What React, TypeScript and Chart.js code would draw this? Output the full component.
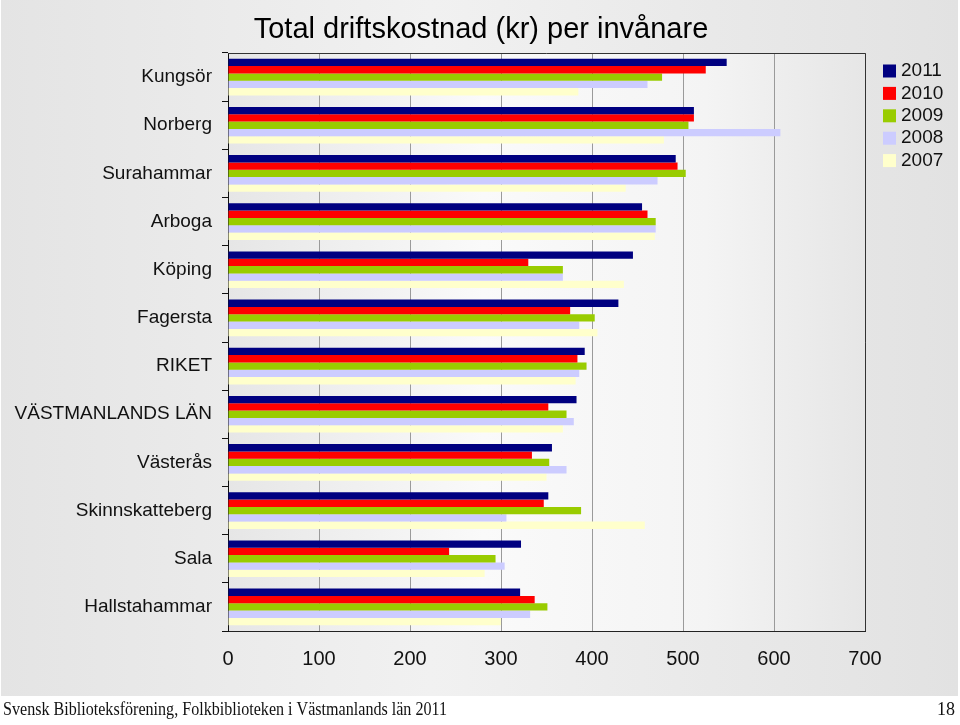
import React, { useEffect, useRef } from "react";
import { Chart, registerables } from "chart.js";

Chart.register(...registerables);

const categories = [
  "Kungsör",
  "Norberg",
  "Surahammar",
  "Arboga",
  "Köping",
  "Fagersta",
  "RIKET",
  "VÄSTMANLANDS LÄN",
  "Västerås",
  "Skinnskatteberg",
  "Sala",
  "Hallstahammar",
];

const years = ["2011", "2010", "2009", "2008", "2007"];

const values2011 = [548, 512, 492, 455, 445, 429, 392, 383, 356, 352, 322, 321];
const values2010 = [525, 512, 494, 461, 330, 376, 384, 352, 334, 347, 243, 337];
const values2009 = [477, 506, 503, 470, 368, 403, 394, 372, 353, 388, 294, 351];
const values2008 = [461, 607, 472, 470, 368, 386, 386, 380, 372, 306, 304, 332];
const values2007 = [385, 479, 437, 469, 435, 406, 382, 368, 350, 458, 282, 300];

const xTicks = [0, 100, 200, 300, 400, 500, 600, 700];

const seriesValues = [values2011, values2010, values2009, values2008, values2007];
const seriesColors = ["#000080", "#ff0000", "#99cc00", "#ccccff", "#ffffcc"];

const titleText = "Total driftskostnad (kr) per invånare";
const footerText = "Svensk Biblioteksförening, Folkbiblioteken i Västmanlands län 2011";
const pageNumber = "18";

const SANS = "'Liberation Sans', Arial, sans-serif";
const SERIF = "'Liberation Serif', 'Times New Roman', serif";

const decorPlugin = {
  id: "decor",
  beforeDraw(chart: any) {
    const { ctx, chartArea } = chart;
    const W = chart.width;
    const H = chart.height;
    ctx.save();
    ctx.fillStyle = "#ffffff";
    ctx.fillRect(0, 0, W, H);
    const g = ctx.createLinearGradient(0, 0, 958, 0);
    g.addColorStop(0, "#e4e4e4");
    g.addColorStop(0.45, "#f1f1f1");
    g.addColorStop(1, "#e2e2e2");
    ctx.fillStyle = g;
    ctx.fillRect(1, 0, 957, 696);
    const pg = ctx.createLinearGradient(chartArea.left, 0, chartArea.right, 0);
    pg.addColorStop(0, "#e6e6e6");
    pg.addColorStop(0.4, "#fafafa");
    pg.addColorStop(0.75, "#f4f4f4");
    pg.addColorStop(1, "#e6e6e6");
    ctx.fillStyle = pg;
    ctx.fillRect(chartArea.left, chartArea.top, chartArea.right - chartArea.left, chartArea.bottom - chartArea.top);
    ctx.restore();
  },
  afterDraw(chart: any) {
    const { ctx, chartArea } = chart;
    ctx.save();
    // frame
    ctx.strokeStyle = "#333333";
    ctx.lineWidth = 1;
    ctx.beginPath();
    ctx.moveTo(chartArea.left, chartArea.top + 0.5);
    ctx.lineTo(chartArea.right + 0.5, chartArea.top + 0.5);
    ctx.lineTo(chartArea.right + 0.5, chartArea.bottom);
    ctx.stroke();
    // title
    ctx.fillStyle = "#000000";
    ctx.font = `29px ${SANS}`;
    ctx.textAlign = "center";
    ctx.textBaseline = "middle";
    ctx.fillText(titleText, 481, 30);
    // legend
    ctx.font = `19px ${SANS}`;
    ctx.textAlign = "left";
    chart.data.datasets.forEach((ds: any, i: number) => {
      const cy = 71 + i * 22.4;
      ctx.fillStyle = ds.backgroundColor;
      ctx.fillRect(883, cy - 6.5, 13, 13);
      ctx.fillStyle = "#111111";
      ctx.fillText(ds.label, 901, cy);
    });
    // footer
    ctx.fillStyle = "#111111";
    ctx.font = `18px ${SERIF}`;
    ctx.textBaseline = "alphabetic";
    ctx.textAlign = "left";
    ctx.fillText(footerText, 3, 715, 444);
    ctx.textAlign = "right";
    ctx.fillText(pageNumber, 955, 715);
    ctx.restore();
  },
};

export default function App() {
  const ref = useRef<HTMLCanvasElement | null>(null);
  useEffect(() => {
    if (!ref.current) return;
    const chart = new Chart(ref.current, {
      type: "bar",
      data: {
        labels: categories,
        datasets: years.map((y, i) => ({
          label: y,
          data: seriesValues[i],
          backgroundColor: seriesColors[i],
          borderWidth: 0,
          categoryPercentage: 0.76,
          barPercentage: 1,
        })),
      },
      options: {
        indexAxis: "y",
        responsive: false,
        animation: false,
        devicePixelRatio: 1,
        layout: { padding: { top: 53, left: 0, right: 95, bottom: 44 } },
        plugins: {
          legend: { display: false },
          title: { display: false },
          tooltip: { enabled: false },
        },
        scales: {
          x: {
            type: "linear",
            min: 0,
            max: 700,
            afterBuildTicks: (scale: any) => {
              scale.ticks = xTicks.map((v) => ({ value: v }));
            },
            afterFit: (scale: any) => {
              scale.height = 50;
            },
            grid: {
              color: "#9a9a9a",
              lineWidth: 1,
              drawTicks: false,
            },
            border: { color: "#222222", width: 1 },
            ticks: {
              padding: 16,
              color: "#111111",
              font: { family: SANS, size: 20 },
            },
          },
          y: {
            type: "category",
            afterFit: (scale: any) => {
              scale.width = 228;
            },
            grid: {
              drawOnChartArea: false,
              drawTicks: true,
              tickLength: 6,
              color: "#111111",
              offset: true,
            },
            border: { color: "#111111", width: 1 },
            ticks: {
              padding: 10,
              color: "#111111",
              font: { family: SANS, size: 19 },
            },
          },
        },
      },
      plugins: [decorPlugin],
    } as any);
    return () => chart.destroy();
  }, []);
  return (
    <div style={{ position: "fixed", left: 0, top: 0, width: 960, height: 725 }}>
      <canvas ref={ref} width={960} height={725} style={{ display: "block", width: 960, height: 725 }} />
    </div>
  );
}
